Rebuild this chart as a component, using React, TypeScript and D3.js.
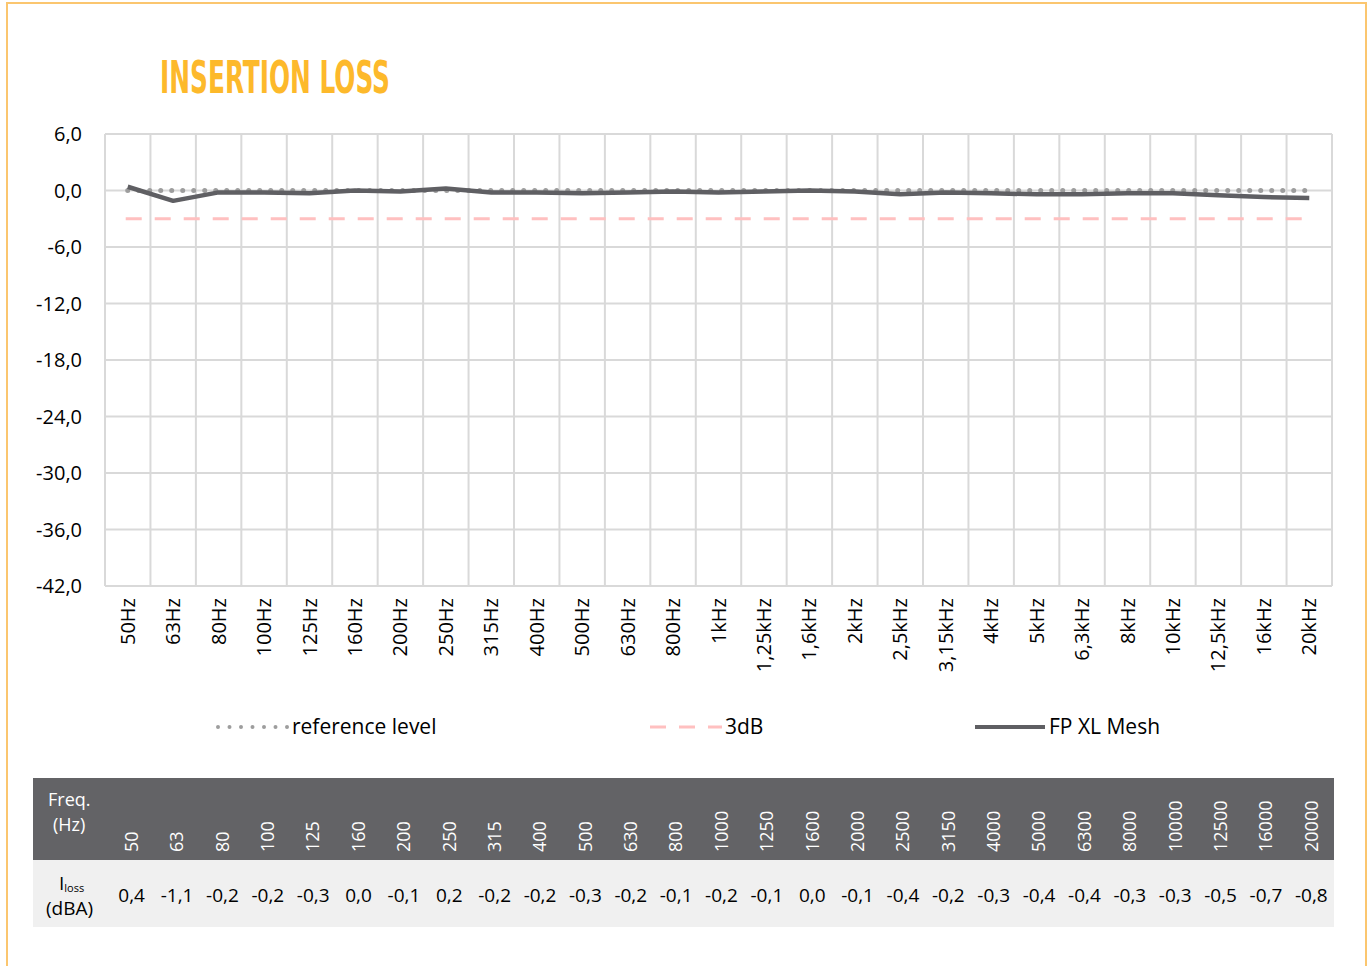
import * as d3 from "d3";

const W = 1371;
const H = 966;
const PLOT = { left: 105, right: 1332, top: 134, bottom: 586 };
const TABLE = { left: 33, right: 1334, colLeft: 109, headTop: 778, headBottom: 860, rowBottom: 927 };

const bands = [
  "50Hz", "63Hz", "80Hz", "100Hz", "125Hz", "160Hz", "200Hz", "250Hz", "315Hz",
  "400Hz", "500Hz", "630Hz", "800Hz", "1kHz", "1,25kHz", "1,6kHz", "2kHz", "2,5kHz",
  "3,15kHz", "4kHz", "5kHz", "6,3kHz", "8kHz", "10kHz", "12,5kHz", "16kHz", "20kHz",
];
const freqs = [
  50, 63, 80, 100, 125, 160, 200, 250, 315, 400, 500, 630, 800, 1000, 1250, 1600,
  2000, 2500, 3150, 4000, 5000, 6300, 8000, 10000, 12500, 16000, 20000,
];
const loss = [
  0.4, -1.1, -0.2, -0.2, -0.3, 0.0, -0.1, 0.2, -0.2, -0.2, -0.3, -0.2, -0.1, -0.2,
  -0.1, 0.0, -0.1, -0.4, -0.2, -0.3, -0.4, -0.4, -0.3, -0.3, -0.5, -0.7, -0.8,
];
const yTicks = [6, 0, -6, -12, -18, -24, -30, -36, -42];
const referenceLevel = 0;
const threeDb = -3;

const FONT = "'Open Sans', sans-serif";
const fmt = (v: number) => v.toFixed(1).replace(".", ",");

export default function App() {
  const x = d3.scaleBand().domain(bands).range([PLOT.left, PLOT.right]).padding(0);
  const y = d3.scaleLinear().domain([-42, 6]).range([PLOT.bottom, PLOT.top]);
  const cx = (b: string) => (x(b) ?? 0) + x.bandwidth() / 2;

  const tx = d3.scaleBand<string>().domain(freqs.map(String)).range([TABLE.colLeft, TABLE.right]);
  const tcx = (f: number) => (tx(String(f)) ?? 0) + tx.bandwidth() / 2;

  const line = d3
    .line<number>()
    .x((_, i) => cx(bands[i]))
    .y((d) => y(d));

  const x0 = cx(bands[0]);
  const x1 = cx(bands[bands.length - 1]);

  return (
    <svg
      width={W}
      height={H}
      style={{ position: "absolute", left: 0, top: 0, background: "#fff" }}
      fontFamily={FONT}
    >
      {/* frame */}
      <path d={`M7,${H} V3 H1366 V${H}`} fill="none" stroke="#fbc66f" strokeWidth={2} />

      <text
        x={160}
        y={93}
        fontFamily="'DejaVu Sans Condensed', 'Liberation Sans Narrow', sans-serif"
        fontWeight="bold"
        fontSize={45}
        fill="#fdb92b"
        textLength={230}
        lengthAdjust="spacingAndGlyphs"
      >
        INSERTION LOSS
      </text>

      {/* grid */}
      <g stroke="#d9d9d9" strokeWidth={2}>
        {yTicks.map((t) => (
          <line key={t} x1={PLOT.left} x2={PLOT.right} y1={y(t)} y2={y(t)} />
        ))}
        {bands.map((b) => (
          <line key={b} x1={x(b)} x2={x(b)} y1={PLOT.top} y2={PLOT.bottom} />
        ))}
        <line x1={PLOT.right} x2={PLOT.right} y1={PLOT.top} y2={PLOT.bottom} />
      </g>

      {yTicks.map((t) => (
        <text key={t} x={82} y={y(t)} dy="0.35em" textAnchor="end" fontSize={20} fill="#000">
          {fmt(t)}
        </text>
      ))}

      {bands.map((b) => (
        <text
          key={b}
          transform={`translate(${cx(b)},598) rotate(-90)`}
          dy="0.35em"
          textAnchor="end"
          fontSize={20}
          fill="#000"
        >
          {b}
        </text>
      ))}

      {/* reference level */}
      <line
        x1={x0}
        x2={x1}
        y1={y(referenceLevel)}
        y2={y(referenceLevel)}
        stroke="#9d9d9d"
        strokeWidth={5}
        strokeDasharray="0 11"
        strokeLinecap="round"
      />
      {/* 3dB */}
      <line
        x1={x0 - 2}
        x2={x1}
        y1={y(threeDb)}
        y2={y(threeDb)}
        stroke="#ffc0c0"
        strokeWidth={3}
        strokeDasharray="16 13"
      />
      <path d={line(loss) ?? ""} fill="none" stroke="#5f5f63" strokeWidth={4.5} strokeLinejoin="round" />

      {/* legend */}
      <g fontSize={21} fill="#000">
        <line x1={218} x2={288} y1={727} y2={727} stroke="#9d9d9d" strokeWidth={4} strokeDasharray="0 11.5" strokeLinecap="round" />
        <text x={292} y={727} dy="0.35em">reference level</text>
        <line x1={650} x2={722} y1={727} y2={727} stroke="#ffc0c0" strokeWidth={3} strokeDasharray="16 13" />
        <text x={725} y={727} dy="0.35em">3dB</text>
        <line x1={975} x2={1045} y1={727} y2={727} stroke="#5f5f63" strokeWidth={4} />
        <text x={1049} y={727} dy="0.35em">FP XL Mesh</text>
      </g>

      {/* table */}
      <rect
        x={TABLE.left}
        y={TABLE.headTop}
        width={TABLE.right - TABLE.left}
        height={TABLE.headBottom - TABLE.headTop}
        fill="#636366"
      />
      <rect
        x={TABLE.left}
        y={TABLE.headBottom}
        width={TABLE.right - TABLE.left}
        height={TABLE.rowBottom - TABLE.headBottom}
        fill="#f0f0f0"
      />
      <text x={48} y={806} fontSize={18} fill="#fff">Freq.</text>
      <text x={53} y={831} fontSize={18} fill="#fff">(Hz)</text>
      {freqs.map((f) => (
        <text
          key={f}
          transform={`translate(${tcx(f)},852) rotate(-90)`}
          dy="0.35em"
          fontSize={18}
          fill="#fff"
        >
          {f}
        </text>
      ))}
      <text x={59} y={890} fontSize={19} fill="#000">
        I<tspan fontSize={11} dy={2}>loss</tspan>
      </text>
      <text x={46} y={915} fontSize={19} fill="#000">(dBA)</text>
      {freqs.map((f, i) => (
        <text key={f} x={tcx(f)} y={895} dy="0.35em" textAnchor="middle" fontSize={19} fill="#000">
          {fmt(loss[i])}
        </text>
      ))}
    </svg>
  );
}
